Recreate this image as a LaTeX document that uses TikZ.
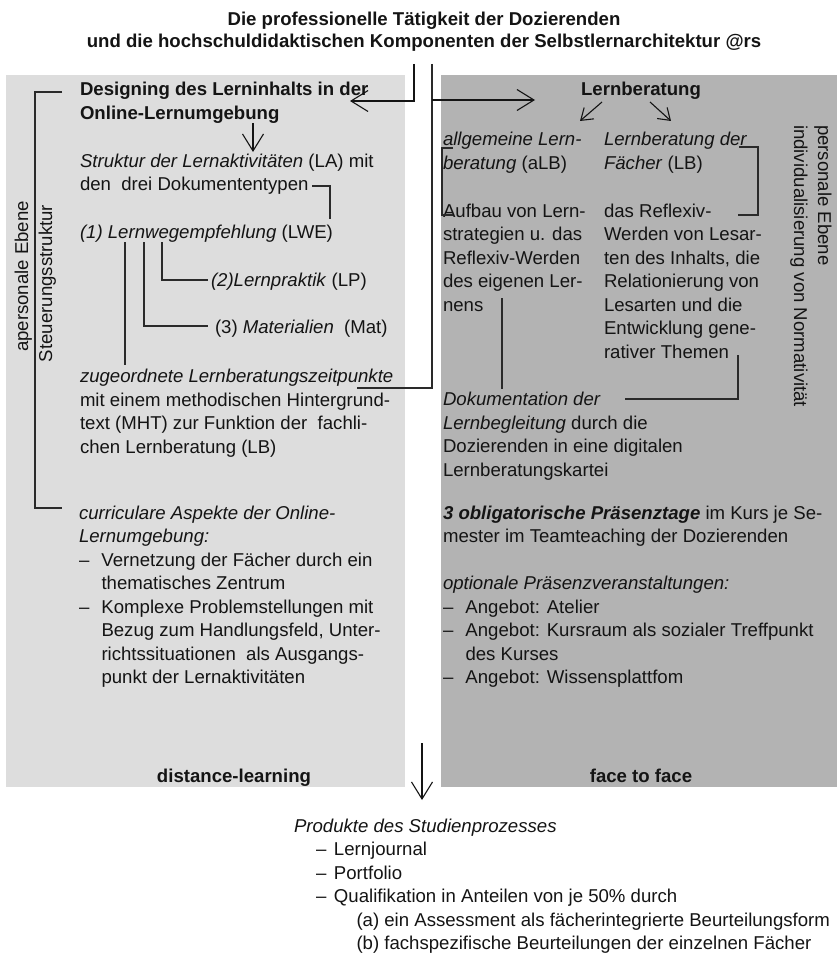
\documentclass[tikz,border=0pt]{standalone}
\usepackage{fontspec}
\setmainfont{Liberation Sans}
\usetikzlibrary{arrows.meta}
\definecolor{panelL}{HTML}{DDDDDD}
\definecolor{panelR}{HTML}{B3B3B3}
\definecolor{ink}{HTML}{141414}
\definecolor{wire}{HTML}{2A2A2A}
\newcommand\mydash{\makebox[22.5pt][l]{–}}
\newcommand\myind{\makebox[22.5pt]{}}
\begin{document}
\begin{tikzpicture}[x=1pt,y=-1pt,
  txt/.style={inner sep=0pt, outer sep=0pt, align=left, anchor=north west,
    font=\fontsize{18.6}{23.5}\selectfont, text=ink},
  txtb/.style={txt, font=\fontsize{18.6}{23.5}\selectfont\bfseries},
  ctr/.style={inner sep=0pt, outer sep=0pt, anchor=base,
    font=\fontsize{18.6}{23.5}\selectfont\bfseries, text=ink},
  rot/.style={inner sep=0pt, outer sep=0pt,
    font=\fontsize{18.6}{23.5}\selectfont, text=ink},
  conn/.style={line width=1.4pt, draw=wire},
  arr/.style={line width=1.1pt, draw=ink,
    -{Straight Barb[length=17pt,width=21pt]}},
  sarr/.style={line width=1.1pt, draw=ink,
    -{Straight Barb[length=11pt,width=15pt]}}
]
\useasboundingbox (0,0) rectangle (837,955);
\fill[white] (0,0) rectangle (837,955);
\fill[panelL] (6,75) rectangle (405,787);
\fill[panelR] (441,75) rectangle (837,787);

% title
\node[inner sep=0pt, anchor=north, align=center, text=ink,
  font=\fontsize{18.6}{22}\selectfont\bfseries] (title) at (424,9.6)
  {\strut Die professionelle Tätigkeit der Dozierenden\\
   und die hochschuldidaktischen Komponenten der Selbstlernarchitektur @rs};

% left column
\node[txtb] (design) at (80,79.5) {\strut Designing des Lerninhalts in der\\Online-Lernumgebung};
\node[txt] (struktur) at (80,151) {\strut\textit{Struktur der Lernaktivitäten} (LA) mit\\den\ \ drei Dokumententypen};
\node[txt] (lwe) at (80,222.5) {\strut\textit{(1) Lernwegempfehlung} (LWE)};
\node[txt] (lp) at (211,270.5) {\strut\textit{(2)Lernpraktik} (LP)};
\node[txt] (mat) at (215,317.5) {\strut(3) \textit{Materialien}\ \ (Mat)};
\node[txt] (zug) at (80,366.5) {\strut\textit{zugeordnete Lernberatungszeitpunkte}\\
  mit einem methodischen Hintergrund-\\
  text (MHT) zur Funktion der\ \ fachli-\\
  chen Lernberatung (LB)};
\node[txt] (curr) at (79,503) {\strut\textit{curriculare Aspekte der Online-}\\
  \textit{Lernumgebung:}\\
  \mydash Vernetzung der Fächer durch ein\\
  \myind thematisches Zentrum\\
  \mydash Komplexe Problemstellungen mit\\
  \myind Bezug zum Handlungsfeld, Unter-\\
  \myind richtssituationen\ \ als Ausgangs-\\
  \myind punkt der Lernaktivitäten};
\node[ctr] (dl) at (234,782) {distance-learning};

% right column
\node[ctr] (lb) at (641,96) {Lernberatung};
\node[txt] (alb) at (443,129.5) {\strut\textit{allgemeine Lern-}\\\textit{beratung} (aLB)};
\node[txt] (lbf) at (604,129.5) {\strut\textit{Lernberatung der}\\\textit{Fächer} (LB)};
\node[txt] (aufbau) at (443,201) {\strut Aufbau von Lern-\\strategien u. das\\Reflexiv-Werden\\des eigenen Ler-\\nens};
\node[txt] (refl) at (604,201) {\strut das Reflexiv-\\Werden von Lesar-\\ten des Inhalts, die\\Relationierung von\\Lesarten und die\\Entwicklung gene-\\rativer Themen};
\node[txt] (doku) at (443,389.5) {\strut\textit{Dokumentation der}\\
  \textit{Lernbegleitung} durch die\\
  Dozierenden in eine digitalen\\
  Lernberatungskartei};
\node[txt] (praes) at (443,503) {\strut\textbf{\textit{3 obligatorische Präsenztage}} im Kurs je Se-\\
  mester im Teamteaching der Dozierenden\\
  \strut\\
  \textit{optionale Präsenzveranstaltungen:}\\
  \mydash Angebot: Atelier\\
  \mydash Angebot: Kursraum als sozialer Treffpunkt\\
  \myind des Kurses\\
  \mydash Angebot: Wissensplattfom};
\node[ctr] (f2f) at (641,782) {face to face};

% rotated side labels
\node[rot, rotate=90, anchor=base] (ape) at (28,276.5) {apersonale Ebene};
\node[rot, rotate=90, anchor=base] (steu) at (52,283.5) {Steuerungsstruktur};
\node[rot, rotate=-90, anchor=base west] (pers) at (818,125) {personale Ebene};
\node[rot, rotate=-90, anchor=base west] (indiv) at (794,125) {individualisierung von Normativität};

% bottom
\node[txt] (prod) at (294,816) {\strut\textit{Produkte des Studienprozesses}\\
  \makebox[22pt]{}\makebox[18pt][l]{–}Lernjournal\\
  \makebox[22pt]{}\makebox[18pt][l]{–}Portfolio\\
  \makebox[22pt]{}\makebox[18pt][l]{–}Qualifikation in Anteilen von je 50\% durch\\
  \makebox[62.5pt]{}(a) ein Assessment als fächerintegrierte Beurteilungsform\\
  \makebox[62.5pt]{}(b) fachspezifische Beurteilungen der einzelnen Fächer};

% coordinates
\coordinate (tL) at (414,64);
\coordinate (tR) at (432,64);
\coordinate (aL) at (350,101);
\coordinate (kR) at (432,100);
\coordinate (aR) at (535,100);
\coordinate (zE) at (357,388);
\coordinate (d1) at (253,123);
\coordinate (d2) at (253,152);
\coordinate (lb1) at (602,102);
\coordinate (lb2) at (580,121);
\coordinate (lb3) at (650,102);
\coordinate (lb4) at (671,121);
\coordinate (dk1) at (312,186);
\coordinate (dk2) at (330,219);
\coordinate (v1) at (125,242);
\coordinate (v1e) at (125,365);
\coordinate (v2) at (144,242);
\coordinate (v2e) at (208,326);
\coordinate (v3) at (162,242);
\coordinate (v3e) at (208,280);
\coordinate (bk1) at (62,92);
\coordinate (bk2) at (35,92);
\coordinate (bk3) at (35,508);
\coordinate (bk4) at (62,508);
\coordinate (ab1) at (453,148);
\coordinate (ab2) at (442,148);
\coordinate (ab3) at (442,215);
\coordinate (ab4) at (453,215);
\coordinate (lf1) at (739,147);
\coordinate (lf2) at (758,147);
\coordinate (lf3) at (758,215);
\coordinate (lf4) at (738,215);
\coordinate (n1) at (502,298);
\coordinate (n2) at (502,389);
\coordinate (th1) at (738,355);
\coordinate (th2) at (625,399);
\coordinate (ba1) at (422,743);
\coordinate (ba2) at (422,800);

% connectors
\draw[arr] (tL) |- (aL);
\draw[conn] (tR) |- (zE);
\draw[arr] (kR) -- (aR);
\draw[arr] (d1) -- (d2);
\draw[sarr] (lb1) -- (lb2);
\draw[sarr] (lb3) -- (lb4);
\draw[conn] (dk1) -| (dk2);
\draw[conn] (v1) -- (v1e);
\draw[conn] (v2) |- (v2e);
\draw[conn] (v3) |- (v3e);
\draw[conn] (bk1) -- (bk2) -- (bk3) -- (bk4);
\draw[conn] (ab1) -- (ab2) -- (ab3) -- (ab4);
\draw[conn] (lf1) -- (lf2) -- (lf3) -- (lf4);
\draw[conn] (n1) -- (n2);
\draw[conn] (th1) |- (th2);
\draw[arr] (ba1) -- (ba2);
\end{tikzpicture}
\end{document}
